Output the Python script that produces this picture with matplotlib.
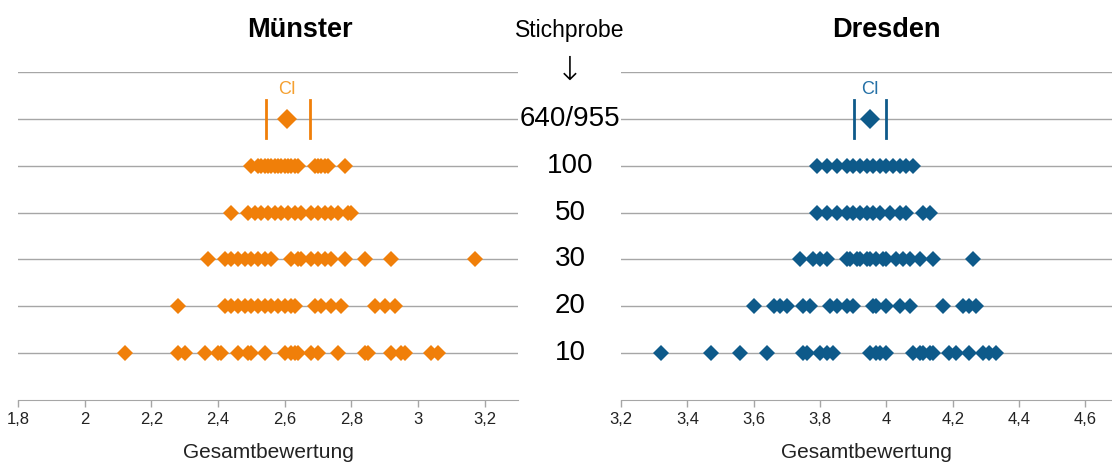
import numpy as np
import matplotlib.pyplot as plt
from matplotlib import font_manager, transforms
from matplotlib.ticker import FuncFormatter, MultipleLocator

names = set(f.name for f in font_manager.fontManager.ttflist)
fam = ['Liberation Sans Narrow', 'Liberation Sans', 'DejaVu Sans']
fam = [f for f in fam if f in names] or ['DejaVu Sans']
plt.rcParams['font.family'] = fam

orange = '#F07F09'
blue = '#0E5A8A'
grid = '#A6A6A6'

rows = ['10', '20', '30', '50', '100', '640/955']

# Münster
ms_10 = [2.12, 2.28, 2.30, 2.36, 2.40, 2.41, 2.46, 2.49, 2.50, 2.54, 2.60, 2.62, 2.63, 2.64,
         2.68, 2.70, 2.76, 2.84, 2.85, 2.92, 2.95, 2.96, 3.04, 3.06]
ms_20 = [2.28, 2.42, 2.44, 2.46, 2.48, 2.50, 2.52, 2.54, 2.56, 2.58, 2.60, 2.62, 2.63,
         2.69, 2.71, 2.74, 2.77, 2.87, 2.90, 2.93]
ms_30 = [2.37, 2.42, 2.44, 2.46, 2.48, 2.50, 2.52, 2.54, 2.56, 2.62, 2.64, 2.65, 2.68,
         2.70, 2.72, 2.74, 2.78, 2.84, 2.92, 3.17]
ms_50 = [2.44, 2.49, 2.51, 2.53, 2.55, 2.57, 2.59, 2.61, 2.63, 2.65, 2.68, 2.70, 2.72,
         2.74, 2.76, 2.79, 2.80]
ms_100 = [2.50, 2.52, 2.53, 2.54, 2.55, 2.56, 2.57, 2.58, 2.59, 2.60, 2.61, 2.62, 2.63,
          2.64, 2.69, 2.70, 2.71, 2.72, 2.73, 2.78]
ms_mean = 2.607
ms_ci = (2.544, 2.676)

# Dresden
dd_10 = [3.32, 3.47, 3.56, 3.64, 3.75, 3.76, 3.80, 3.82, 3.84, 3.95, 3.97, 3.98, 4.00,
         4.08, 4.10, 4.11, 4.13, 4.14, 4.19, 4.21, 4.25, 4.29, 4.31, 4.33]
dd_20 = [3.60, 3.66, 3.68, 3.70, 3.75, 3.77, 3.83, 3.85, 3.88, 3.90, 3.96, 3.97, 4.00,
         4.04, 4.07, 4.17, 4.23, 4.25, 4.27]
dd_30 = [3.74, 3.78, 3.80, 3.82, 3.88, 3.89, 3.91, 3.92, 3.94, 3.95, 3.97, 3.99, 4.00,
         4.03, 4.05, 4.07, 4.10, 4.14, 4.26]
dd_50 = [3.79, 3.82, 3.85, 3.88, 3.90, 3.92, 3.94, 3.96, 3.98, 4.01, 4.04, 4.06, 4.11, 4.13]
dd_100 = [3.79, 3.82, 3.85, 3.88, 3.90, 3.92, 3.94, 3.96, 3.98, 4.00, 4.02, 4.04, 4.06, 4.08]
dd_mean = 3.951
dd_ci = (3.903, 3.999)

fig = plt.figure(figsize=(11.12, 4.66), dpi=100)
ax1 = fig.add_axes([0.0162, 0.1416, 0.4496, 0.704])
ax2 = fig.add_axes([0.5585, 0.1416, 0.4415, 0.704])

fmt = FuncFormatter(lambda v, p: ('%g' % round(v, 1)).replace('.', ','))


def panel(ax, samples, mean, ci, col, xlim, cicol):
    for y in range(1, 8):
        ax.axhline(y, color=grid, lw=1, zorder=1)
    for i, s in enumerate(samples):
        ax.plot(s, [i + 1] * len(s), 'D', color=col, ms=8.5, mew=0, zorder=3)
    ax.plot([mean], [6], 'D', color=col, ms=10.5, mew=0, zorder=3)
    for c in ci:
        ax.plot([c, c], [5.6, 6.4], color=col, lw=2, zorder=3)
    ax.text(mean, 6.45, 'CI', color=cicol, fontsize=13, ha='center', va='bottom')
    ax.set_xlim(*xlim)
    ax.set_ylim(0, 7)
    for s in ['top', 'right', 'left']:
        ax.spines[s].set_visible(False)
    ax.spines['bottom'].set_color(grid)
    ax.set_yticks([])
    ax.xaxis.set_major_locator(MultipleLocator(0.2))
    ax.xaxis.set_major_formatter(fmt)
    ax.tick_params(axis='x', colors=grid, labelcolor='#222222', labelsize=12, length=5, width=1)
    ax.set_xlabel('Gesamtbewertung', fontsize=15, color='#222222', labelpad=12)


panel(ax1, [ms_10, ms_20, ms_30, ms_50, ms_100], ms_mean, ms_ci, orange,
      (1.8, 3.3), '#F5A030')
panel(ax2, [dd_10, dd_20, dd_30, dd_50, dd_100], dd_mean, dd_ci, blue,
      (3.2, 4.68), '#2470A6')

fig.text(300 / 1112, 1 - 30 / 466, 'Münster', ha='center', va='center',
         fontsize=19.5, fontweight='bold')
fig.text(886 / 1112, 1 - 30 / 466, 'Dresden', ha='center', va='center',
         fontsize=19.5, fontweight='bold')

tr = transforms.blended_transform_factory(fig.transFigure, ax1.transData)
cx = 570 / 1112
for i, r in enumerate(rows):
    fig.text(cx, i + 1, r, transform=tr, ha='center', va='center', fontsize=20)
fig.text(cx, 1 - 31 / 466, 'Stichprobe', ha='center', va='center', fontsize=16.5)
fig.text(cx, 1 - 70 / 466, '↓', ha='center', va='center', fontsize=24,
         family=['DejaVu Sans'], fontweight='light')

fig.savefig('out.png', dpi=100)
